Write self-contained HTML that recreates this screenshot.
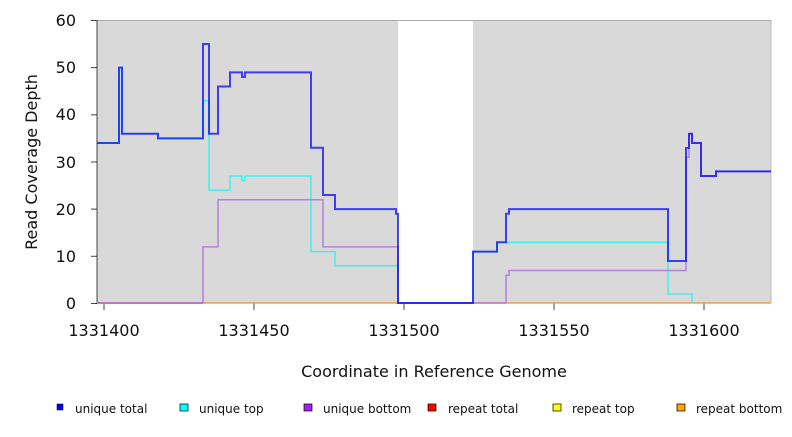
<!DOCTYPE html>
<html><head><meta charset="utf-8"><style>
body{margin:0;background:#fff;}
svg text{font-family:"DejaVu Sans","Liberation Sans",sans-serif;}
</style></head><body>
<svg width="792" height="432" xmlns="http://www.w3.org/2000/svg">
<rect x="97" y="20" width="301" height="283.5" fill="#d9d9d9"/>
<rect x="473" y="20" width="298" height="283.5" fill="#d9d9d9"/>
<line x1="97" y1="20.5" x2="771" y2="20.5" stroke="#aaa" stroke-width="1"/>
<line x1="771" y1="20" x2="771" y2="303" stroke="#bbb" stroke-width="1"/>
<line x1="97" y1="20" x2="97" y2="304" stroke="#444" stroke-width="1"/>
<g stroke="#444" stroke-width="1">
<line x1="91" y1="303.5" x2="97" y2="303.5"/><line x1="91" y1="256.3" x2="97" y2="256.3"/>
<line x1="91" y1="209.1" x2="97" y2="209.1"/><line x1="91" y1="162" x2="97" y2="162"/>
<line x1="91" y1="114.8" x2="97" y2="114.8"/><line x1="91" y1="67.6" x2="97" y2="67.6"/>
<line x1="91" y1="20.5" x2="97" y2="20.5"/>
<line x1="104" y1="303" x2="104" y2="310"/><line x1="254" y1="303" x2="254" y2="310"/>
<line x1="404" y1="303" x2="404" y2="310"/><line x1="554" y1="303" x2="554" y2="310"/>
<line x1="704" y1="303" x2="704" y2="310"/>
</g>
<g font-size="16" fill="#111" text-anchor="end">
<text x="76" y="309">0</text><text x="76" y="262">10</text><text x="76" y="215">20</text>
<text x="76" y="168">30</text><text x="76" y="120">40</text><text x="76" y="73">50</text><text x="76" y="26">60</text>
</g>
<g font-size="16" fill="#111" text-anchor="middle">
<text x="104" y="336">1331400</text><text x="254" y="336">1331450</text><text x="404" y="336">1331500</text>
<text x="554" y="336">1331550</text><text x="704" y="336">1331600</text>
<text x="434" y="377">Coordinate in Reference Genome</text>
</g>
<text transform="translate(37,162) rotate(-90)" font-size="16" fill="#111" text-anchor="middle">Read Coverage Depth</text>
<line x1="97" y1="303" x2="771" y2="303" stroke="#f0a040" stroke-width="1.5"/>
<line x1="97" y1="303" x2="203" y2="303" stroke="#d06080" stroke-width="1.5"/>
<polyline fill="none" stroke="#40f0f0" stroke-width="1.5" points="97,143 119,143 119,67.6 122,67.6 122,133.7 158,133.7 158,138.4 203,138.4 203,100.7 209,100.7 209,190.3 230,190.3 230,176 242,176 242,180.6 245,180.6 245,176 311,176 311,251.6 335,251.6 335,265.8 398,265.8 398,303 473,303 473,251.6 497,251.6 497,242.2 668,242.2 668,294 692,294 692,303"/>
<polyline fill="none" stroke="#b070e0" stroke-width="1.5" opacity="0.85" points="97,303 203,303 203,246.9 218,246.9 218,199.7 323,199.7 323,246.9 398,246.9 398,303 506,303 506,275.2 509,275.2 509,270.5 686,270.5 686,157.3 689,157.3 689,133.7 692,133.7 692,143 701,143 701,176 716,176 716,171.4 771,171.4"/>
<polyline fill="none" stroke="#0000ff" stroke-width="2" opacity="0.72" points="97,143 119,143 119,67.6 122,67.6 122,133.7 158,133.7 158,138.4 203,138.4 203,44 209,44 209,133.7 218,133.7 218,86.5 230,86.5 230,72.4 242,72.4 242,77 245,77 245,72.4 311,72.4 311,147.8 323,147.8 323,195 335,195 335,209.1 396,209.1 396,213.8 398,213.8 398,303 473,303 473,251.6 497,251.6 497,242.2 506,242.2 506,213.8 509,213.8 509,209.1 668,209.1 668,261 686,261 686,148 689,148 689,133.7 692,133.7 692,143 701,143 701,176 716,176 716,171.4 771,171.4"/>
<g font-size="12" fill="#111">
<rect x="57" y="404" width="6" height="6" fill="#0000ff" stroke="#000" stroke-width="0.5"/><text x="75" y="413">unique total</text>
<rect x="180" y="404" width="8" height="7" fill="#00ffff" stroke="#000" stroke-width="0.7"/><text x="199" y="413">unique top</text>
<rect x="304" y="404" width="8" height="7" fill="#a020f0" stroke="#000" stroke-width="0.7"/><text x="323" y="413">unique bottom</text>
<rect x="428" y="404" width="8" height="7" fill="#ff0000" stroke="#000" stroke-width="0.7"/><text x="448" y="413">repeat total</text>
<rect x="553" y="404" width="8" height="7" fill="#ffff00" stroke="#000" stroke-width="0.7"/><text x="572" y="413">repeat top</text>
<rect x="677" y="404" width="8" height="7" fill="#ffa500" stroke="#000" stroke-width="0.7"/><text x="696" y="413">repeat bottom</text>
</g>
</svg>
</body></html>
